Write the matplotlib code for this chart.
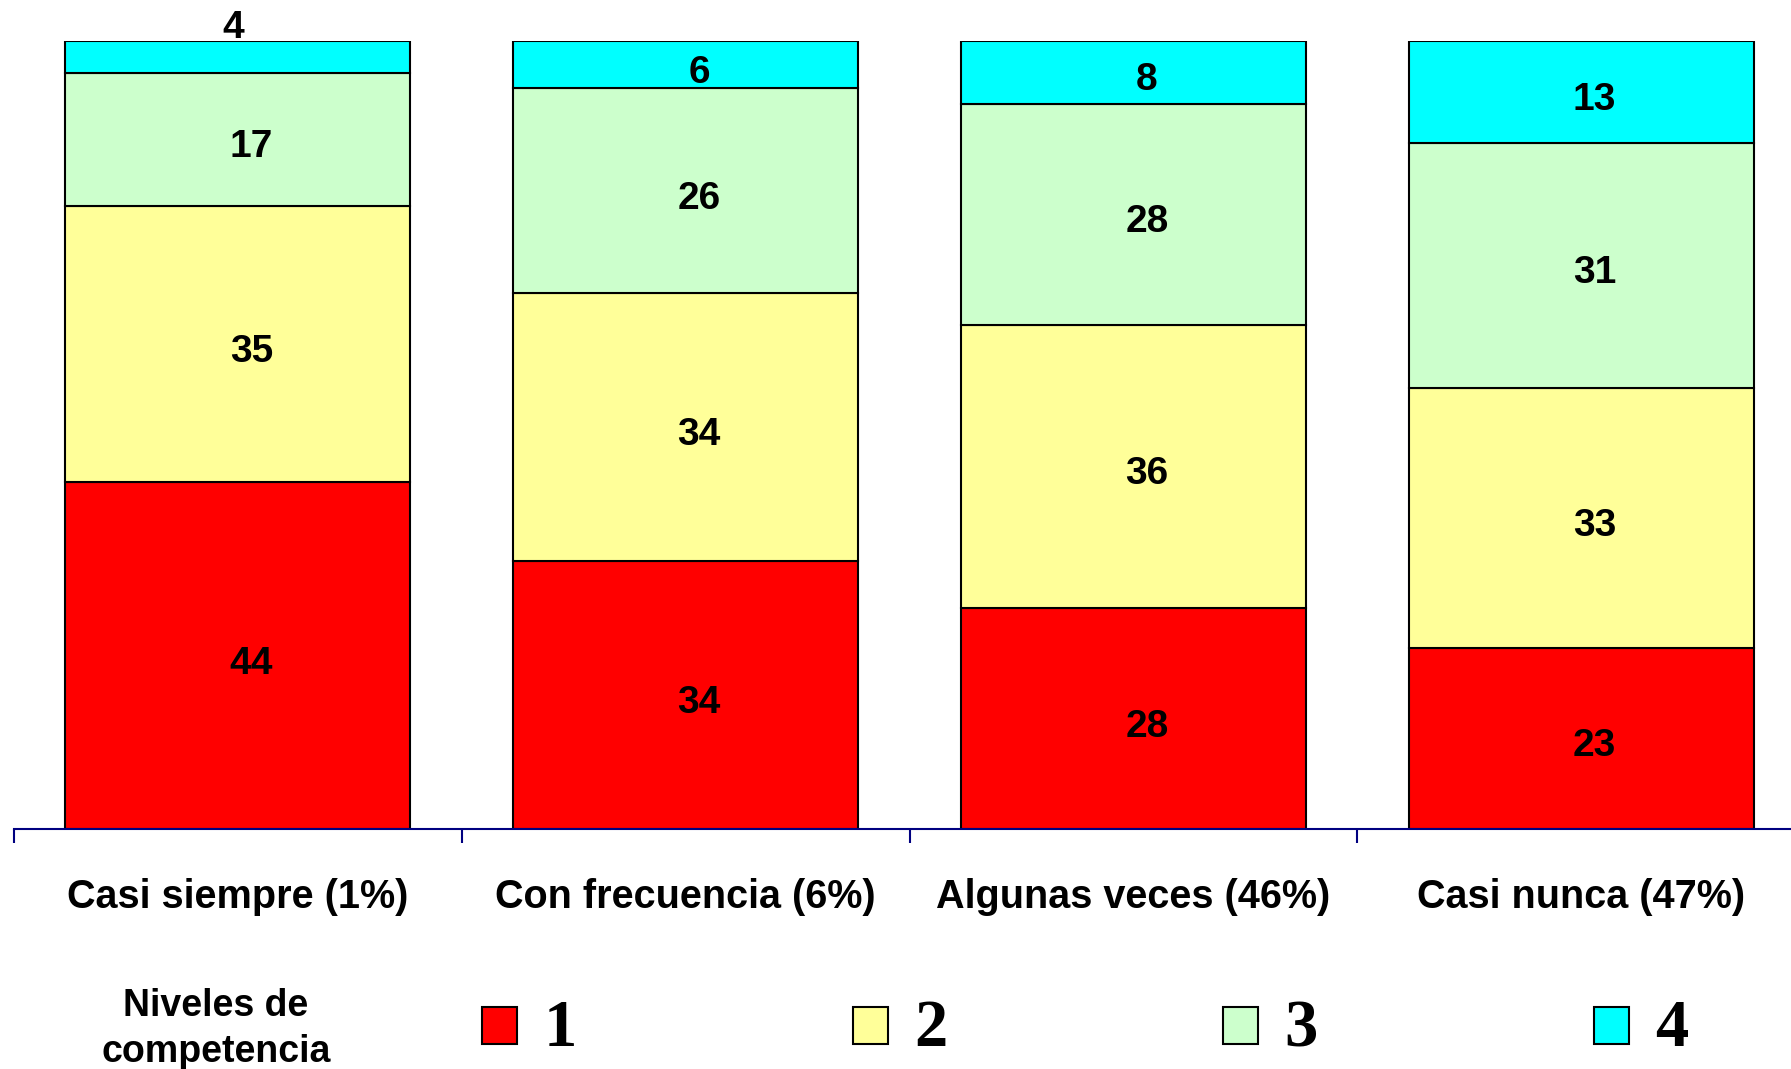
import matplotlib
matplotlib.use("Agg")
import matplotlib.pyplot as plt
from matplotlib.patches import Rectangle
import numpy as np

categories = ["Casi siempre (1%)", "Con frecuencia (6%)", "Algunas veces (46%)", "Casi nunca (47%)"]
levels = ["1", "2", "3", "4"]
nivel1 = [44, 34, 28, 23]
nivel2 = [35, 34, 36, 33]
nivel3 = [17, 26, 28, 31]
nivel4 = [4, 6, 8, 13]
series = [nivel1, nivel2, nivel3, nivel4]
colors = ["#FF0000", "#FFFF99", "#CCFFCC", "#00FFFF"]
legend_title = "Niveles de\ncompetencia"

plt.rcParams['font.family'] = ['Liberation Sans', 'DejaVu Sans']

W, H = 1791, 1069
fig = plt.figure(figsize=(W/100, H/100), dpi=100)
ax = fig.add_axes([14/W, (H-829)/H, (1805-14)/W, 788/H])

x = np.arange(len(categories))
bottom = np.zeros(len(categories))
for vals, col in zip(series, colors):
    bars = ax.bar(x, vals, width=0.77, bottom=bottom, color=col,
                  edgecolor='black', linewidth=1.5, zorder=2)
    for xi, b, v in zip(x, bottom, vals):
        yc = b + v/2 - 1.0
        xc = xi + 0.03
        if v < 5:
            yc = b + v + 1.7
            xc = xi - 0.01
        ax.text(xc, yc, str(v), ha='center', va='center', fontsize=28,
                fontweight='bold', color='black', zorder=3)
    bottom = bottom + np.array(vals)

ax.set_xlim(-0.5, 3.5)
ax.set_ylim(0, 100)
for s in ['top', 'right', 'left']:
    ax.spines[s].set_visible(False)
ax.spines['bottom'].set_color('#000080')
ax.spines['bottom'].set_linewidth(1.5)
ax.set_yticks([])
ax.set_xticks(np.arange(-0.5, 4.0, 1.0))
ax.set_xticklabels([])
ax.tick_params(axis='x', which='major', direction='out', length=10, width=1.5, color='#000080')
ax.set_xticks(x, minor=True)
ax.set_xticklabels(categories, minor=True, fontsize=28.5, fontweight='bold')
ax.tick_params(axis='x', which='minor', length=0, pad=35)

# legend
fig.text(216/W, (H-1029)/H, legend_title, ha='center', va='center', fontsize=27,
         fontweight='bold', linespacing=1.36)
box_x = [482, 853, 1223, 1594]
for bx, lab, col in zip(box_x, levels, colors):
    fig.add_artist(Rectangle((bx/W, (H-1044)/H), 35/W, 37/H, transform=fig.transFigure,
                             facecolor=col, edgecolor='black', linewidth=1.5))
    fig.text((bx+78)/W, (H-1030)/H, lab, ha='center', va='center', fontsize=48,
             fontweight='bold', family=['Liberation Serif', 'DejaVu Serif'])

fig.savefig("out.png", dpi=100)
